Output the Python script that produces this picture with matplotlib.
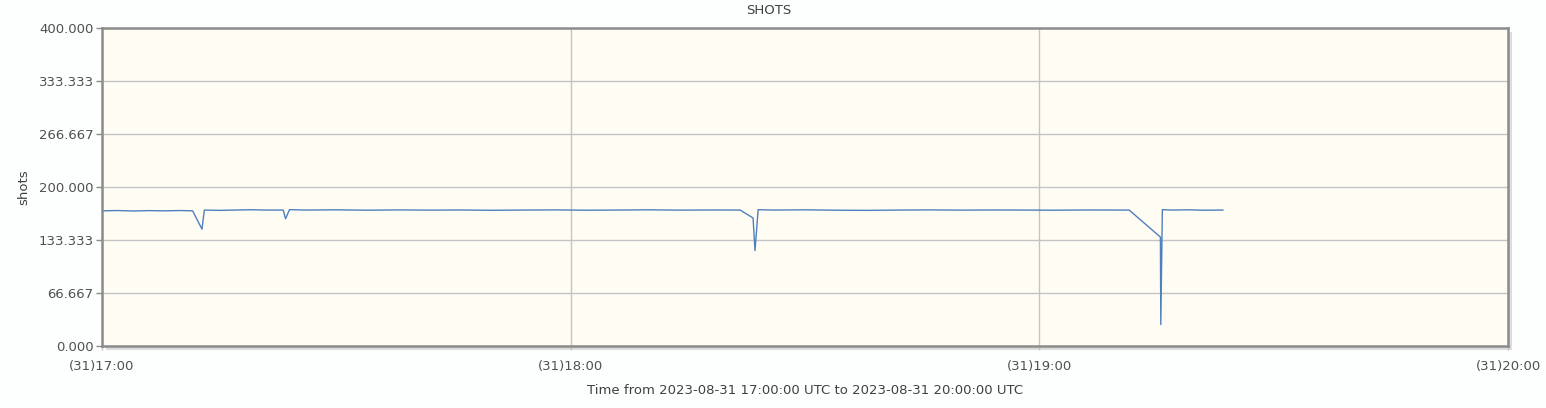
import matplotlib.pyplot as plt
from matplotlib.patches import Rectangle

# minutes after 2023-08-31 17:00 UTC
minutes = [0, 2, 4, 6, 8, 10, 11.6, 12.8, 13.1, 15, 17, 19, 21, 23.2, 23.5, 24.0,
           26, 30, 34, 38, 42, 46, 50, 54, 58, 62, 66, 70, 74, 78, 81.7,
           83.35, 83.6, 84.0, 86, 90, 94, 98, 102, 106, 110, 114, 118, 122, 126, 130,
           131.5, 135.5, 135.55, 135.75, 137, 139, 141, 143.5]
shots = [170.0, 170.4, 169.8, 170.3, 170.0, 170.4, 170.0, 147.0, 171.0, 170.6, 171.0, 171.4, 171.0, 171.0, 160.0, 171.5,
         171.0, 171.3, 170.8, 171.2, 170.9, 171.1, 170.7, 171.0, 171.2, 170.8, 171.0, 171.3, 170.9, 171.1, 171.0,
         161.0, 120.0, 171.5, 171.0, 171.3, 170.8, 170.6, 171.0, 171.2, 170.9, 171.1, 171.0, 170.8, 171.1, 171.0,
         171.0, 137.0, 27.0, 171.5, 171.0, 171.3, 170.8, 171.0]

yticks = [0, 66.667, 133.333, 200, 266.667, 333.333, 400]
xticks = [0, 60, 120, 180]
xlabels = ['(31)17:00', '(31)18:00', '(31)19:00', '(31)20:00']

W, H = 1546, 408
fig = plt.figure(figsize=(W / 100, H / 100), dpi=100, facecolor='#fdfefe')
l, r, t, b = 102, 1508, 28, 346
ax = fig.add_axes([l / W, 1 - b / H, (r - l) / W, (b - t) / H])
ax.set_zorder(2)

# drop shadow behind the plot box
fig.patches.append(Rectangle(((l + 4) / W, 1 - (b + 4) / H), (r - l) / W, (b - t) / H,
                             transform=fig.transFigure, facecolor='#dcdcdc', edgecolor='none', zorder=0))

ax.set_facecolor('#fffcf4')
ax.plot(minutes, shots, color='#4f7fbf', lw=1.0)

ax.set_xlim(0, 180)
ax.set_ylim(0, 400)
ax.set_yticks(yticks)
ax.set_yticklabels(['%.3f' % v for v in yticks])
ax.set_xticks(xticks)
ax.set_xticklabels(xlabels)
ax.grid(True, color='#c4c4c4', lw=1.0)
ax.set_axisbelow(True)

for s in ax.spines.values():
    s.set_color('#8c8c8c')
    s.set_linewidth(1.8)

ax.tick_params(axis='y', length=4, width=1, color='#8c8c8c', labelcolor='#505050', labelsize=9.5, pad=2)
ax.tick_params(axis='x', length=3, width=1, color='#c4c4c4', labelcolor='#505050', labelsize=9.5, pad=7)

fig.suptitle('SHOTS', x=0.497, y=0.99, fontsize=9.5, color='#404040', va='top')
ax.set_ylabel('shots', fontsize=9.5, color='#404040', labelpad=6)
ax.set_xlabel('Time from 2023-08-31 17:00:00 UTC to 2023-08-31 20:00:00 UTC',
              fontsize=9.5, color='#404040', labelpad=8)

fig.savefig('out.png', dpi=100, facecolor=fig.get_facecolor())
